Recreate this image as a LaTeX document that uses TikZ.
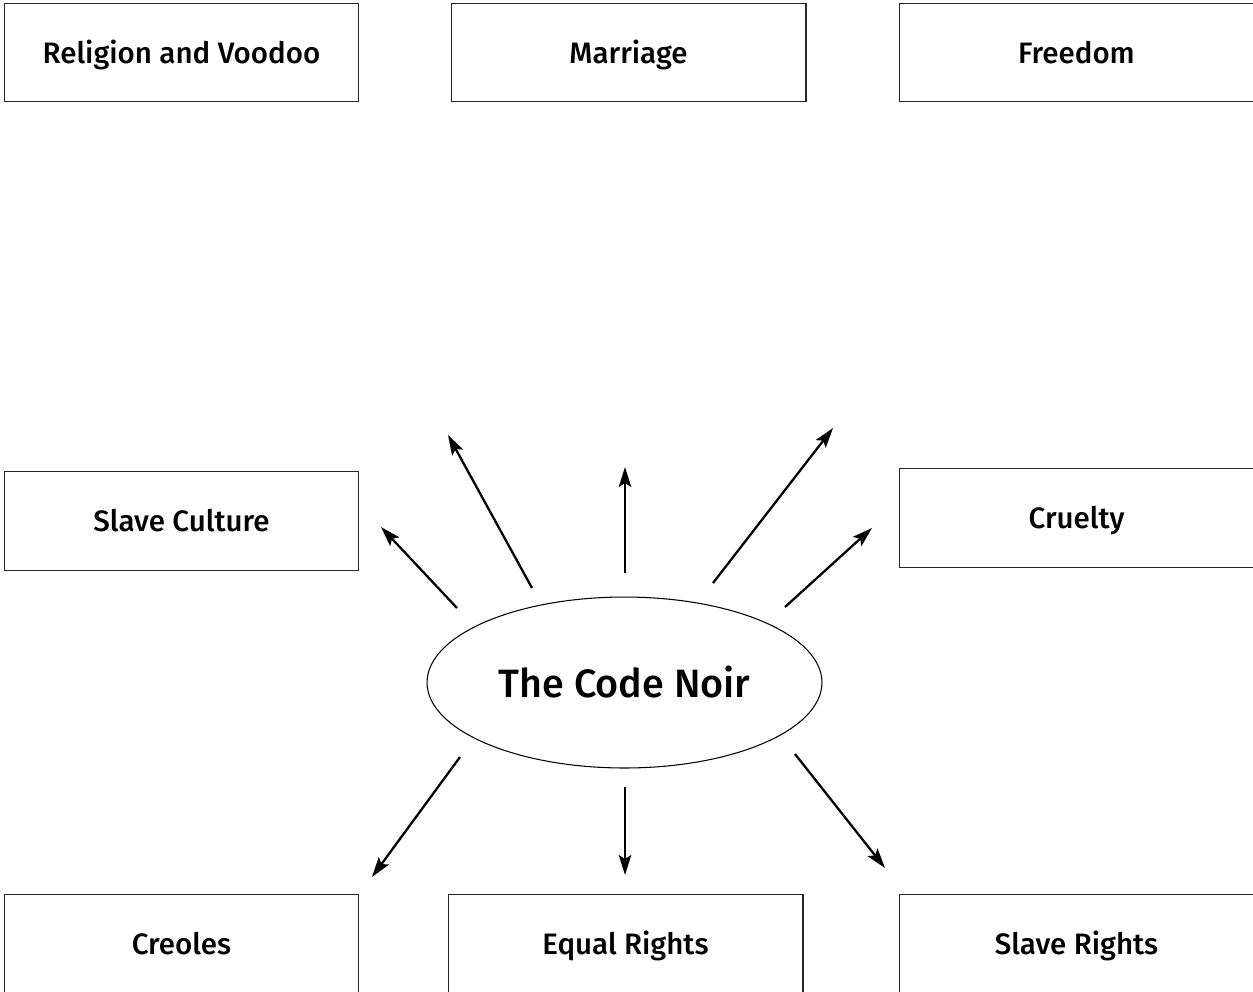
\documentclass[tikz,border=0pt]{standalone}
\usepackage{fontspec}
\setmainfont{Fira Sans Medium}
\usetikzlibrary{arrows.meta,shapes.geometric}
\begin{document}
\begin{tikzpicture}[x=0.02cm,y=-0.02cm,
  topic/.style={draw=black!85,line width=0.6pt,rectangle,minimum width=7.1cm,minimum height=1.97cm,inner sep=0pt,text height=0.69em+0.18cm,text depth=0pt,font=\fontsize{16.8}{20}\selectfont},
  hub/.style={draw=black,line width=0.6pt,ellipse,minimum width=7.9cm,minimum height=3.42cm,inner sep=0pt,text height=0.69em+0.34cm,text depth=0pt,font=\fontsize{22.5}{27}\selectfont},
  ray/.style={line width=1.3pt,-{Stealth[length=0.4cm,width=0.25cm,inset=0.08cm]}}]
\useasboundingbox (0,0) rectangle (1253,991);
\fill[white] (0,0) rectangle (1253,991);
\node[topic] (rel) at (181.5,52.5) {Religion and Voodoo};
\node[topic] (mar) at (628.5,52.5) {Marriage};
\node[topic] (fre) at (1076.5,52.5) {Freedom};
\node[topic] (cul) at (181.5,521) {Slave Culture};
\node[topic] (cru) at (1076.5,518) {Cruelty};
\node[topic] (cre) at (181.5,944) {Creoles};
\node[topic] (equ) at (625.5,944) {Equal Rights};
\node[topic] (srt) at (1076.5,944) {Slave Rights};
\node[hub] (code) at (624.5,682.5) {The Code Noir};
% free ends of the rays
\coordinate (s1) at (457,608); \coordinate (e1) at (381,527);
\coordinate (s2) at (532,588); \coordinate (e2) at (448,435);
\coordinate (s3) at (625,573); \coordinate (e3) at (625,467);
\coordinate (s4) at (713,583); \coordinate (e4) at (833,428);
\coordinate (s5) at (785,607); \coordinate (e5) at (872,528);
\coordinate (s6) at (460,757); \coordinate (e6) at (372,877);
\coordinate (s7) at (625,787); \coordinate (e7) at (625,875);
\coordinate (s8) at (795,754); \coordinate (e8) at (885,868);
\foreach \i in {1,...,8} {\draw[ray] (s\i) -- (e\i);}
\end{tikzpicture}
\end{document}
